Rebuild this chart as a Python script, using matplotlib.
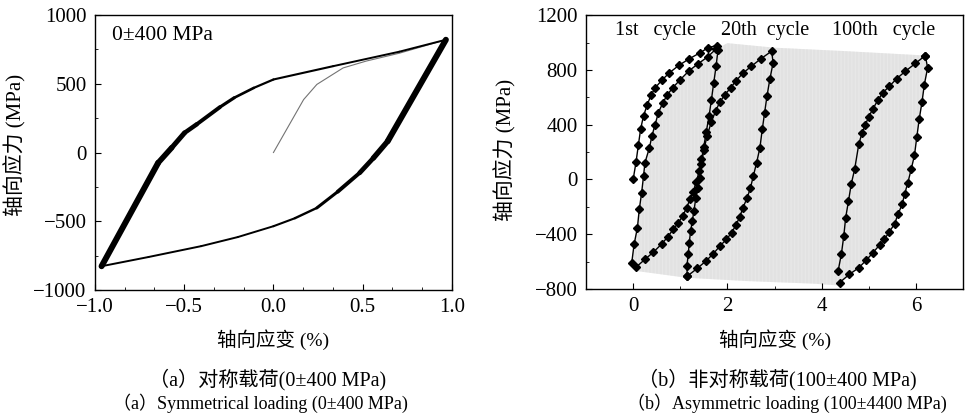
import matplotlib
matplotlib.use("Agg")
import matplotlib.pyplot as plt
from matplotlib.ticker import MultipleLocator, AutoMinorLocator, FuncFormatter

plt.rcParams['font.family'] = ['Liberation Serif', 'Noto Sans CJK SC']
plt.rcParams['hatch.linewidth'] = 0.3

# (a) symmetric loading 0±400 MPa
init_strain = [0.0, 0.169, 0.243, 0.39, 0.52, 0.705, 0.966]
init_stress = [0, 385, 495, 615, 665, 722, 820]

up_strain = [-0.963, -0.646, -0.57, -0.498, -0.43, -0.30, -0.22, -0.11, 0.0, 0.335, 0.705, 0.966]
up_stress = [-827, -75, 35, 143, 205, 330, 398, 470, 531, 628, 733, 820]
up_width = [4.3, 4.0, 3.6, 3.2, 2.8, 2.3, 1.9, 1.6, 1.5, 1.4, 1.4]

lo_strain = [0.966, 0.64, 0.56, 0.483, 0.36, 0.243, 0.12, 0.0, -0.2, -0.405, -0.7, -0.963]
lo_stress = [820, 82, -40, -148, -285, -403, -478, -536, -615, -681, -760, -827]
lo_width = [4.3, 3.9, 3.4, 2.8, 2.2, 1.7, 1.5, 1.4, 1.4, 1.4, 1.4]

# (b) asymmetric loading, 1st cycle
c1_load_strain = [0.0, 0.06, 0.11, 0.16, 0.22, 0.30, 0.38, 0.47, 0.61, 0.77, 0.97, 1.19, 1.42, 1.59, 1.77]
c1_load_stress = [0, 124, 250, 370, 465, 545, 617, 670, 725, 779, 833, 881, 925, 962, 978]
c1_unload_strain = [1.80, 1.76, 1.71, 1.66, 1.61, 1.55, 1.50, 1.45, 1.40, 1.34, 1.27, 1.21, 1.135,
                    1.05, 0.96, 0.85, 0.73, 0.61, 0.43, 0.25, 0.063]
c1_unload_stress = [945, 827, 705, 580, 460, 345, 240, 146, 60, -20, -90, -140, -207,
                    -268, -316, -365, -421, -470, -531, -584, -640]
c1_reload_strain = [-0.03, 0.02, 0.09, 0.13, 0.18, 0.22, 0.25, 0.345, 0.40, 0.466, 0.535,
                    0.63, 0.72, 0.84, 0.99, 1.19, 1.38, 1.58, 1.75]
c1_reload_stress = [-608, -474, -353, -219, -97, 24, 122, 231, 320, 401, 487,
                    560, 615, 670, 725, 795, 845, 895, 950]

# 20th cycle
c20_strain = [1.15, 1.14, 1.17, 1.19, 1.22, 1.255, 1.29, 1.33, 1.37, 1.41, 1.45, 1.50, 1.57,
              1.66, 1.75, 1.84, 1.95, 2.07, 2.18, 2.34, 2.51, 2.71, 2.94,
              2.97, 2.90, 2.84, 2.79, 2.74, 2.69, 2.62, 2.55, 2.49, 2.42, 2.33, 2.26, 2.18,
              2.09, 1.98, 1.84, 1.70, 1.545, 1.36, 1.15]
c20_stress = [-706, -633, -547, -462, -377, -304, -231, -134, -61, 12, 109, 215, 320,
              420, 500, 565, 620, 669, 720, 779, 827, 881, 937,
              852, 730, 608, 487, 365, 231, 122, 24, -61, -134, -207, -275, -334,
              -389, -438, -487, -543, -596, -650, -706]

# 100th cycle
c100_strain = [4.35, 4.42, 4.47, 4.51, 4.57, 4.63, 4.70, 4.79, 4.86, 4.93, 5.00, 5.09, 5.19,
               5.30, 5.44, 5.59, 5.78, 5.99, 6.20]
c100_stress = [-669, -543, -414, -280, -158, -31, 73, 260, 341, 401, 458, 516, 577,
               633, 681, 735, 791, 847, 905]
c100_unload_strain = [6.20, 6.25, 6.18, 6.13, 6.07, 6.02, 5.97, 5.90, 5.83, 5.76, 5.71, 5.62,
                      5.55, 5.44, 5.33, 5.23, 5.09, 4.95, 4.79, 4.59, 4.38]
c100_unload_stress = [905, 815, 693, 564, 438, 309, 175, 73, -24, -109, -182, -255,
                      -324, -382, -438, -479, -535, -589, -645, -693, -754]

# outline of the intermediate cycles band
band_top_strain = [2.0, 3.0, 4.5]
band_top_stress = [995, 962, 937]
band_bot_strain = [4.35, 3.82, 2.40, 1.13, 0.08]
band_bot_stress = [-774, -761, -742, -718, -669]

fig = plt.figure(figsize=(9.73, 4.2), dpi=100)
ax1 = fig.add_axes([0.0976, 0.3095, 0.3669, 0.6548])
ax2 = fig.add_axes([0.6023, 0.312, 0.3874, 0.652])

minus = lambda fmt: FuncFormatter(lambda v, p: format(v, fmt).replace('-', '\u2212'))

# ---- panel (a)
ax1.plot(init_strain, init_stress, color='0.45', lw=0.8)
for i, w in enumerate(up_width):
    ax1.plot(up_strain[i:i + 2], up_stress[i:i + 2], color='k', lw=w, solid_capstyle='round')
for i, w in enumerate(lo_width):
    ax1.plot(lo_strain[i:i + 2], lo_stress[i:i + 2], color='k', lw=w, solid_capstyle='round')
ax1.set_xlim(-1, 1)
ax1.set_ylim(-1000, 1000)
ax1.xaxis.set_major_locator(MultipleLocator(0.5))
ax1.xaxis.set_minor_locator(AutoMinorLocator(3))
ax1.yaxis.set_major_locator(MultipleLocator(500))
ax1.yaxis.set_minor_locator(AutoMinorLocator(2))
ax1.xaxis.set_major_formatter(minus('.1f'))
ax1.yaxis.set_major_formatter(minus('.0f'))
ax1.text(0.048, 0.927, '0\u00b1400 MPa', transform=ax1.transAxes, fontsize=15.5, va='center')

# ---- panel (b)
pts = (list(zip(c1_reload_strain, c1_reload_stress))
       + list(zip(band_top_strain, band_top_stress))
       + list(zip(c100_unload_strain, c100_unload_stress))
       + list(zip(band_bot_strain, band_bot_stress)))
ax2.fill([p[0] for p in pts], [p[1] for p in pts], facecolor='#e9e9e9',
         edgecolor='#d9d9d9', hatch='|' * 12, lw=0, zorder=1)

mk = dict(color='k', lw=1.0, marker='D', markersize=4.2, zorder=3)
ax2.plot(c1_load_strain + c1_unload_strain + c1_reload_strain,
         c1_load_stress + c1_unload_stress + c1_reload_stress, **mk)
ax2.plot(c20_strain, c20_stress, **mk)
ax2.plot(c100_strain + c100_unload_strain, c100_stress + c100_unload_stress, **mk)

ax2.set_xlim(-1, 7)
ax2.set_ylim(-800, 1200)
ax2.xaxis.set_major_locator(MultipleLocator(2))
ax2.xaxis.set_minor_locator(AutoMinorLocator(2))
ax2.yaxis.set_major_locator(MultipleLocator(400))
ax2.yaxis.set_minor_locator(AutoMinorLocator(2))
ax2.yaxis.set_major_formatter(minus('.0f'))
for x, s in [(0.47, '1st   cycle'), (2.81, '20th  cycle'), (5.31, '100th   cycle')]:
    ax2.text(x, 1088, s, fontsize=14.5, ha='center', va='center')

for ax in (ax1, ax2):
    ax.tick_params(which='both', direction='in', labelsize=15, top=False, right=False)
    ax.tick_params(which='major', length=4, pad=6)
    ax.tick_params(which='minor', length=2.5)
    for s in ax.spines.values():
        s.set_linewidth(1.0)

fig.text(15 / 973, 1 - 145 / 420, '轴向应力 (MPa)', rotation=90, fontsize=15, ha='center', va='center')
fig.text(505 / 973, 1 - 150 / 420, '轴向应力 (MPa)', rotation=90, fontsize=15, ha='center', va='center')
fig.text(273 / 973, 1 - 340 / 420, '轴向应变 (%)', fontsize=14, ha='center', va='center')
fig.text(775 / 973, 1 - 340 / 420, '轴向应变 (%)', fontsize=14, ha='center', va='center')

fig.text(268 / 973, 1 - 380 / 420, '（a）对称载荷(0\u00b1400 MPa)', fontsize=14.5, ha='center', va='center')
fig.text(260 / 973, 1 - 403 / 420, '（a）Symmetrical loading (0\u00b1400 MPa)', fontsize=13, ha='center', va='center')
fig.text(777 / 973, 1 - 380 / 420, '（b）非对称载荷(100\u00b1400 MPa)', fontsize=14.5, ha='center', va='center')
fig.text(787 / 973, 1 - 403 / 420, '（b）Asymmetric loading (100\u00b14400 MPa)', fontsize=13, ha='center', va='center')

fig.savefig('out.png', dpi=100)
